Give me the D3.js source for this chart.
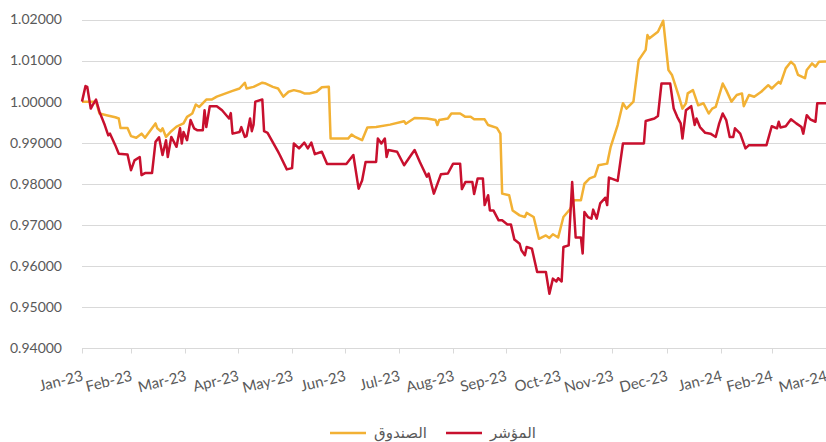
<!DOCTYPE html>
<html>
<head>
<meta charset="utf-8">
<script src="https://cdn.jsdelivr.net/npm/d3@7"></script>
<style>
  body { margin: 0; background: #fff; }
  svg { display: block; }
</style>
</head>
<body>
<svg id="chart" width="826" height="442"></svg>
<script>
// fund (الصندوق) vs index (المؤشر), rebased to 1 at end of Jan-23
const fundSeries = [
  ["2023-01-31",1.0000],["2023-02-08",1.0000],["2023-02-10",0.9971],["2023-02-14",0.9967],
  ["2023-02-19",0.9962],["2023-02-21",0.9959],["2023-02-22",0.9936],["2023-02-26",0.9936],
  ["2023-02-28",0.9916],["2023-03-03",0.9912],["2023-03-06",0.9922],["2023-03-08",0.9912],
  ["2023-03-14",0.9947],["2023-03-15",0.9935],["2023-03-17",0.9928],["2023-03-18",0.9935],
  ["2023-03-20",0.9914],["2023-03-23",0.9928],["2023-03-26",0.9939],["2023-03-30",0.9947],
  ["2023-04-01",0.9963],["2023-04-04",0.9971],["2023-04-06",0.9993],["2023-04-08",0.9987],
  ["2023-04-12",1.0005],["2023-04-15",1.0005],["2023-04-18",1.0012],["2023-04-27",1.0026],
  ["2023-05-01",1.0032],["2023-05-04",1.0046],["2023-05-05",1.0032],["2023-05-09",1.0036],
  ["2023-05-14",1.0046],["2023-05-16",1.0044],["2023-05-20",1.0036],["2023-05-23",1.0032],
  ["2023-05-26",1.0012],["2023-05-29",1.0024],["2023-06-01",1.0028],["2023-06-05",1.0024],
  ["2023-06-07",1.0020],["2023-06-10",1.0020],["2023-06-14",1.0024],["2023-06-17",1.0035],
  ["2023-06-21",1.0036],["2023-06-22",0.9910],["2023-07-02",0.9910],["2023-07-04",0.9920],
  ["2023-07-06",0.9914],["2023-07-10",0.9906],["2023-07-13",0.9937],["2023-07-18",0.9938],
  ["2023-07-26",0.9944],["2023-08-03",0.9952],["2023-08-04",0.9946],["2023-08-09",0.9960],
  ["2023-08-16",0.9959],["2023-08-21",0.9955],["2023-08-22",0.9943],["2023-08-23",0.9955],
  ["2023-08-28",0.9959],["2023-08-30",0.9971],["2023-09-04",0.9971],["2023-09-07",0.9963],
  ["2023-09-10",0.9963],["2023-09-12",0.9957],["2023-09-18",0.9957],["2023-09-20",0.9943],
  ["2023-09-25",0.9936],["2023-09-27",0.9922],["2023-09-28",0.9776],["2023-10-02",0.9772],
  ["2023-10-04",0.9735],["2023-10-08",0.9723],["2023-10-11",0.9719],["2023-10-12",0.9729],
  ["2023-10-16",0.9719],["2023-10-19",0.9666],["2023-10-23",0.9674],["2023-10-25",0.9668],
  ["2023-10-27",0.9677],["2023-10-30",0.9669],["2023-11-02",0.9719],["2023-11-06",0.9739],
  ["2023-11-08",0.9760],["2023-11-12",0.9760],["2023-11-14",0.9800],["2023-11-17",0.9813],
  ["2023-11-20",0.9818],["2023-11-22",0.9845],["2023-11-27",0.9849],["2023-11-29",0.9890],
  ["2023-12-03",0.9943],["2023-12-06",0.9996],["2023-12-08",0.9983],["2023-12-12",1.0000],
  ["2023-12-15",1.0101],["2023-12-19",1.0126],["2023-12-20",1.0162],["2023-12-21",1.0154],
  ["2023-12-26",1.0170],["2023-12-29",1.0197],["2024-01-01",1.0077],["2024-01-03",1.0065],
  ["2024-01-07",1.0012],["2024-01-09",0.9983],["2024-01-11",0.9996],["2024-01-12",1.0020],
  ["2024-01-15",1.0028],["2024-01-18",0.9991],["2024-01-21",0.9996],["2024-01-24",0.9971],
  ["2024-01-26",0.9983],["2024-01-28",0.9987],["2024-02-01",1.0044],["2024-02-03",1.0028],
  ["2024-02-06",1.0000],["2024-02-09",1.0016],["2024-02-12",1.0020],["2024-02-13",0.9989],
  ["2024-02-16",1.0016],["2024-02-19",1.0012],["2024-02-23",1.0024],["2024-02-27",1.0040],
  ["2024-02-29",1.0032],["2024-03-02",1.0040],["2024-03-04",1.0048],["2024-03-05",1.0044],
  ["2024-03-08",1.0081],["2024-03-11",1.0097],["2024-03-13",1.0089],["2024-03-15",1.0065],
  ["2024-03-19",1.0057],["2024-03-20",1.0077],["2024-03-23",1.0093],["2024-03-25",1.0085],
  ["2024-03-27",1.0097],["2024-03-31",1.0098]
];

const indexSeries = [
  ["2023-01-31",1.0000],["2023-02-02",1.0038],["2023-02-03",1.0036],["2023-02-05",0.9983],
  ["2023-02-06",0.9991],["2023-02-08",1.0005],["2023-02-10",0.9975],["2023-02-13",0.9943],
  ["2023-02-15",0.9918],["2023-02-16",0.9922],["2023-02-19",0.9894],["2023-02-21",0.9873],
  ["2023-02-26",0.9871],["2023-02-28",0.9833],["2023-03-02",0.9857],["2023-03-05",0.9865],
  ["2023-03-06",0.9821],["2023-03-08",0.9826],["2023-03-12",0.9826],["2023-03-14",0.9902],
  ["2023-03-16",0.9913],["2023-03-18",0.9870],["2023-03-20",0.9906],["2023-03-21",0.9865],
  ["2023-03-23",0.9914],["2023-03-26",0.9890],["2023-03-28",0.9935],["2023-03-29",0.9898],
  ["2023-03-30",0.9926],["2023-04-01",0.9906],["2023-04-03",0.9955],["2023-04-05",0.9935],
  ["2023-04-07",0.9930],["2023-04-10",0.9930],["2023-04-11",0.9979],["2023-04-12",0.9938],
  ["2023-04-14",0.9989],["2023-04-18",0.9989],["2023-04-21",0.9979],["2023-04-25",0.9959],
  ["2023-04-26",0.9972],["2023-04-27",0.9922],["2023-05-01",0.9926],["2023-05-02",0.9938],
  ["2023-05-04",0.9914],["2023-05-05",0.9916],["2023-05-07",0.9959],["2023-05-08",0.9928],
  ["2023-05-09",0.9944],["2023-05-10",1.0000],["2023-05-14",1.0005],["2023-05-15",0.9928],
  ["2023-05-17",0.9924],["2023-05-23",0.9878],["2023-05-24",0.9870],["2023-05-28",0.9835],
  ["2023-05-31",0.9838],["2023-06-01",0.9898],["2023-06-04",0.9886],["2023-06-07",0.9900],
  ["2023-06-09",0.9886],["2023-06-11",0.9900],["2023-06-13",0.9872],["2023-06-17",0.9878],
  ["2023-06-20",0.9848],["2023-07-01",0.9848],["2023-07-05",0.9870],["2023-07-08",0.9788],
  ["2023-07-10",0.9808],["2023-07-12",0.9853],["2023-07-18",0.9853],["2023-07-19",0.9910],
  ["2023-07-21",0.9898],["2023-07-23",0.9910],["2023-07-24",0.9865],["2023-07-25",0.9882],
  ["2023-07-30",0.9878],["2023-08-03",0.9845],["2023-08-07",0.9870],["2023-08-09",0.9882],
  ["2023-08-12",0.9853],["2023-08-16",0.9817],["2023-08-17",0.9825],["2023-08-20",0.9776],
  ["2023-08-24",0.9823],["2023-08-28",0.9825],["2023-08-31",0.9849],["2023-09-04",0.9849],
  ["2023-09-05",0.9787],["2023-09-07",0.9804],["2023-09-11",0.9804],["2023-09-12",0.9775],
  ["2023-09-14",0.9813],["2023-09-17",0.9813],["2023-09-18",0.9748],["2023-09-20",0.9772],
  ["2023-09-21",0.9735],["2023-09-23",0.9735],["2023-09-26",0.9711],["2023-09-28",0.9711],
  ["2023-10-01",0.9701],["2023-10-03",0.9701],["2023-10-05",0.9664],["2023-10-08",0.9654],
  ["2023-10-09",0.9638],["2023-10-11",0.9626],["2023-10-12",0.9646],["2023-10-15",0.9642],
  ["2023-10-18",0.9585],["2023-10-23",0.9585],["2023-10-25",0.9532],["2023-10-27",0.9569],
  ["2023-10-29",0.9562],["2023-10-30",0.9570],["2023-11-01",0.9562],["2023-11-02",0.9646],
  ["2023-11-05",0.9650],["2023-11-07",0.9804],["2023-11-09",0.9669],["2023-11-12",0.9669],
  ["2023-11-13",0.9630],["2023-11-14",0.9731],["2023-11-16",0.9719],["2023-11-18",0.9715],
  ["2023-11-19",0.9737],["2023-11-21",0.9715],["2023-11-23",0.9752],["2023-11-26",0.9766],
  ["2023-11-27",0.9748],["2023-11-28",0.9815],["2023-12-03",0.9807],["2023-12-06",0.9898],
  ["2023-12-18",0.9898],["2023-12-19",0.9953],["2023-12-24",0.9959],["2023-12-26",0.9965],
  ["2023-12-28",1.0044],["2024-01-02",1.0044],["2024-01-04",0.9983],["2024-01-06",0.9963],
  ["2024-01-08",0.9947],["2024-01-09",0.9910],["2024-01-11",0.9979],["2024-01-14",0.9989],
  ["2024-01-16",0.9943],["2024-01-17",0.9959],["2024-01-19",0.9938],["2024-01-22",0.9924],
  ["2024-01-25",0.9922],["2024-01-28",0.9914],["2024-01-30",0.9947],["2024-02-01",0.9971],
  ["2024-02-03",0.9955],["2024-02-05",0.9914],["2024-02-07",0.9914],["2024-02-08",0.9935],
  ["2024-02-11",0.9922],["2024-02-14",0.9886],["2024-02-16",0.9894],["2024-02-26",0.9894],
  ["2024-02-29",0.9940],["2024-03-03",0.9935],["2024-03-04",0.9951],["2024-03-05",0.9937],
  ["2024-03-08",0.9940],["2024-03-11",0.9957],["2024-03-14",0.9947],["2024-03-17",0.9938],
  ["2024-03-18",0.9922],["2024-03-20",0.9967],["2024-03-22",0.9957],["2024-03-25",0.9951],
  ["2024-03-26",0.9996],["2024-03-31",0.9996]
];

const yTicks = [0.94, 0.95, 0.96, 0.97, 0.98, 0.99, 1.00, 1.01, 1.02];
const xDomain = ["2023-01-31", "2024-03-31"];
const legendItems = [
  {name: "الصندوق", color: "#F2B134", series: fundSeries},
  {name: "المؤشر", color: "#C8102E", series: indexSeries}
];

const parse = d3.timeParse("%Y-%m-%d");
const svg = d3.select("#chart");
const font = "Lato, 'Open Sans', 'DejaVu Sans', sans-serif";
const textColor = "#595959";

const x = d3.scaleTime()
  .domain(xDomain.map(parse))
  .range([82, 826]);
const y = d3.scaleLinear()
  .domain([0.94, 1.02])
  .range([348, 19.5]);

// gridlines
svg.append("g")
  .selectAll("line")
  .data(yTicks)
  .join("line")
  .attr("x1", 82).attr("x2", 826)
  .attr("y1", d => Math.round(y(d)) + 0.5)
  .attr("y2", d => Math.round(y(d)) + 0.5)
  .attr("stroke", "#d9d9d9")
  .attr("stroke-width", 1);

// y labels
svg.append("g")
  .selectAll("text")
  .data(yTicks)
  .join("text")
  .attr("x", 62)
  .attr("y", d => y(d))
  .attr("dy", "0.35em")
  .attr("text-anchor", "end")
  .attr("fill", textColor)
  .style("font-family", font)
  .style("font-size", "14px")
  .text(d3.format(".5f"));

// x axis: ticks at month ends
const monthEnds = d3.timeMonth.range(parse("2023-02-01"), parse("2024-04-02"))
  .map(d => d3.timeDay.offset(d, -1));
const xAxis = svg.append("g")
  .attr("transform", "translate(0," + (Math.round(y(0.94)) + 0.5) + ")");
xAxis.append("line")
  .attr("x1", 82).attr("x2", 826)
  .attr("stroke", "#d9d9d9");
xAxis.selectAll("line.tick")
  .data(monthEnds)
  .join("line")
  .attr("class", "tick")
  .attr("x1", d => Math.round(x(d)) + 0.5)
  .attr("x2", d => Math.round(x(d)) + 0.5)
  .attr("y1", 0).attr("y2", 5)
  .attr("stroke", "#d9d9d9");
xAxis.selectAll("text")
  .data(monthEnds)
  .join("text")
  .attr("transform", d => "translate(" + (x(d) + 2) + ",32) rotate(-14)")
  .attr("text-anchor", "end")
  .attr("fill", textColor)
  .style("font-family", font)
  .style("font-size", "15px")
  .text(d3.timeFormat("%b-%y"));

// lines
const line = d3.line()
  .x(d => x(parse(d[0])))
  .y(d => y(d[1]));

svg.append("g")
  .selectAll("path")
  .data(legendItems)
  .join("path")
  .attr("d", d => line(d.series))
  .attr("fill", "none")
  .attr("stroke", d => d.color)
  .attr("stroke-width", 2.5)
  .attr("stroke-linejoin", "round");

// legend
const legend = svg.append("g").attr("transform", "translate(0,433)");
const legendX = [330, 446];
const li = legend.selectAll("g")
  .data(legendItems)
  .join("g")
  .attr("transform", (d, i) => "translate(" + legendX[i] + ",0)");
li.append("line")
  .attr("x1", 0).attr("x2", 36)
  .attr("stroke", d => d.color)
  .attr("stroke-width", 2.5);
li.append("text")
  .attr("x", 44)
  .attr("dy", "0.35em")
  .attr("text-anchor", "start")
  .attr("fill", textColor)
  .style("font-family", "'DejaVu Sans', sans-serif")
  .style("font-size", "15px")
  .text(d => d.name);
</script>
</body>
</html>
